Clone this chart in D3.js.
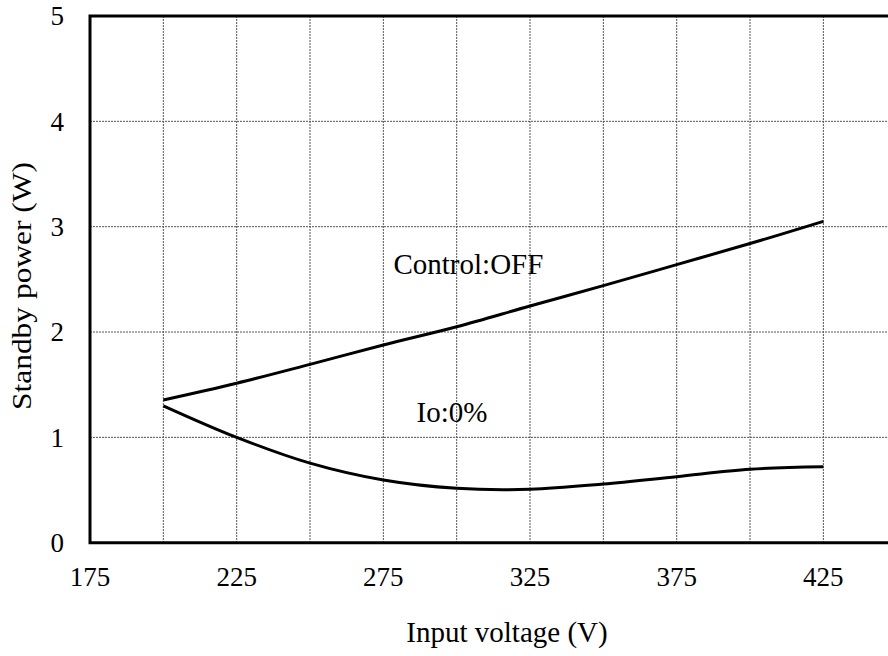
<!DOCTYPE html>
<html>
<head>
<meta charset="utf-8">
<script src="https://cdn.jsdelivr.net/npm/d3@7/dist/d3.min.js"></script>
<style>
  html, body { margin: 0; padding: 0; background: #fff; }
  svg text { font-family: "Liberation Serif", Tinos, "Times New Roman", Times, "DejaVu Serif", serif; }
</style>
</head>
<body>
<svg id="chart" width="888" height="656"></svg>
<script>
// Input voltage (V) sample points
const voltages = [200, 225, 250, 275, 300, 325, 350, 375, 400, 425];
// Standby power (W) with control off
const controlOff = [1.355, 1.514, 1.693, 1.877, 2.05, 2.247, 2.44, 2.64, 2.84, 3.05];
// Standby power (W) at 0% output current
const ioZero = [1.30, 1.00, 0.755, 0.595, 0.516, 0.507, 0.557, 0.627, 0.697, 0.72];

const xTicks = [175, 225, 275, 325, 375, 425];
const xGrid = [200, 225, 250, 275, 300, 325, 350, 375, 400, 425, 450];
const yTicks = [0, 1, 2, 3, 4, 5];

const curveLabels = [
  { text: "Control:OFF", v: 304, p: 2.55 },
  { text: "Io:0%", v: 298.4, p: 1.15 }
];

const svg = d3.select("#chart");
const plotL = 90, plotR = 896.7, plotT = 16, plotB = 542.7;

const x = d3.scaleLinear().domain([175, 450]).range([plotL, plotR]);
const y = d3.scaleLinear().domain([0, 5]).range([plotB, plotT]);

// dotted grid
const grid = svg.append("g")
  .attr("stroke", "#555")
  .attr("stroke-width", 1)
  .attr("stroke-dasharray", "2,1");
grid.selectAll("line.v").data(xGrid).join("line")
  .attr("class", "v")
  .attr("x1", d => x(d)).attr("x2", d => x(d))
  .attr("y1", plotT).attr("y2", plotB);
grid.selectAll("line.h").data(yTicks.filter(d => d > 0 && d < 5)).join("line")
  .attr("class", "h")
  .attr("x1", plotL).attr("x2", plotR)
  .attr("y1", d => y(d)).attr("y2", d => y(d));

// frame: left, bottom and top edges
svg.append("path")
  .attr("d", `M${plotR},${plotT}H${plotL}V${plotB}H${plotR}`)
  .attr("stroke", "#000").attr("stroke-width", 3).attr("fill", "none");

// tick labels
svg.append("g").selectAll("text").data(xTicks).join("text")
  .attr("x", d => x(d)).attr("y", 586)
  .attr("text-anchor", "middle")
  .attr("font-size", 27)
  .text(d => d);

svg.append("g").selectAll("text").data(yTicks).join("text")
  .attr("x", 64).attr("y", d => y(d))
  .attr("dy", "0.35em")
  .attr("text-anchor", "end")
  .attr("font-size", 27)
  .text(d => d);

// axis titles
svg.append("text")
  .attr("x", 507).attr("y", 642)
  .attr("text-anchor", "middle")
  .attr("font-size", 29)
  .text("Input voltage (V)");

svg.append("text")
  .attr("transform", "translate(30.5,286) rotate(-90)")
  .attr("text-anchor", "middle")
  .attr("font-size", 27)
  .attr("textLength", 248)
  .attr("lengthAdjust", "spacingAndGlyphs")
  .text("Standby power (W)");

// curves
const line = d3.line()
  .x(d => x(d[0]))
  .y(d => y(d[1]))
  .curve(d3.curveCatmullRom.alpha(0.5));

[controlOff, ioZero].forEach(series => {
  svg.append("path")
    .datum(voltages.map((v, i) => [v, series[i]]))
    .attr("fill", "none")
    .attr("stroke", "#000")
    .attr("stroke-width", 3)
    .attr("d", line);
});

// curve labels
svg.append("g").selectAll("text").data(curveLabels).join("text")
  .attr("x", d => x(d.v))
  .attr("y", d => y(d.p))
  .attr("text-anchor", "middle")
  .attr("font-size", 29)
  .text(d => d.text);
</script>
</body>
</html>
